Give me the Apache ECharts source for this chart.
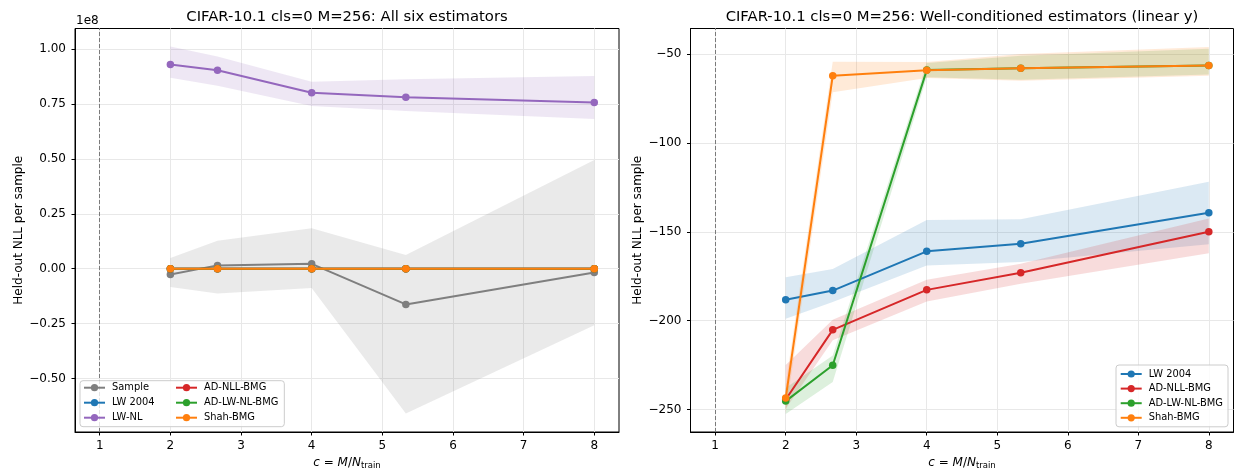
<!DOCTYPE html>
<html>
<head>
<meta charset="utf-8">
<script src="https://cdn.jsdelivr.net/npm/echarts@6/dist/echarts.min.js"></script>
<style>
html,body{margin:0;padding:0;background:#fff;}
#chart{width:1235px;height:470px;}
</style>
</head>
<body>
<div id="chart"></div>
<script>
// ---------- data ----------
const cValues = [2, 2.667, 4, 5.333, 8];           // c = M / N_train
const xTicks = [1, 2, 3, 4, 5, 6, 7, 8];
const xTickLabels = ['1', '2', '3', '4', '5', '6', '7', '8'];

// left panel (units of 1e8)
const leftYTicks = [-0.5, -0.25, 0, 0.25, 0.5, 0.75, 1.0];
const leftYTickLabels = ['\u22120.50', '\u22120.25', '0.00', '0.25', '0.50', '0.75', '1.00'];
const sampleMean = [-0.027, 0.015, 0.022, -0.163, -0.017];
const sampleLo   = [-0.083, -0.113, -0.088, -0.660, -0.258];
const sampleHi   = [0.049, 0.127, 0.184, 0.062, 0.495];
const lwnlMean = [0.930, 0.904, 0.801, 0.781, 0.757];
const lwnlLo   = [0.870, 0.833, 0.741, 0.718, 0.682];
const lwnlHi   = [1.012, 0.966, 0.852, 0.863, 0.878];

// right panel (raw NLL)
const rightYTicks = [-250, -200, -150, -100, -50];
const rightYTickLabels = ['\u2212250', '\u2212200', '\u2212150', '\u2212100', '\u221250'];
const lw2004Mean = [-188.3, -183.1, -161.0, -156.8, -139.3];
const lw2004Lo   = [-199.0, -189.6, -169.0, -167.0, -157.0];
const lw2004Hi   = [-175.6, -170.9, -143.4, -142.9, -121.9];
const adNllMean = [-244.4, -205.2, -182.7, -173.1, -150.0];
const adNllLo   = [-249.6, -211.0, -189.3, -179.3, -162.1];
const adNllHi   = [-225.0, -199.5, -177.0, -168.0, -142.5];
const adLwNlMean = [-245.3, -225.1, -59.0, -58.0, -56.4];
const adLwNlLo   = [-252.5, -234.6, -63.0, -64.5, -61.5];
const adLwNlHi   = [-238.0, -219.6, -55.0, -51.0, -47.0];
const shahMean = [-243.6, -62.2, -59.1, -58.0, -56.4];
const shahLo   = [-252.0, -71.5, -63.5, -65.0, -62.2];
const shahHi   = [-236.0, -54.3, -54.5, -50.0, -46.0];

const colors = {
  'Sample': '#7f7f7f', 'LW 2004': '#1f77b4', 'LW-NL': '#9467bd',
  'AD-NLL-BMG': '#d62728', 'AD-LW-NL-BMG': '#2ca02c', 'Shah-BMG': '#ff7f0e'
};
const SCALE = 1e8;
const scaleArr = a => a.map(v => v / SCALE);

// ---------- helpers ----------
const FONT = 'DejaVu Sans';
function band(name, gi, xs, lo, hi, color) {
  return {
    type: 'custom', name: name + ' band', xAxisIndex: gi, yAxisIndex: gi,
    silent: true, z: 1, clip: true,
    data: xs.map((x, i) => [x, lo[i], hi[i]]),
    encode: { x: 0, y: [1, 2] },
    renderItem: function (params, api) {
      if (params.dataIndex !== 0) return null;
      const pts = [];
      for (let i = 0; i < xs.length; i++) pts.push(api.coord([xs[i], hi[i]]));
      for (let i = xs.length - 1; i >= 0; i--) pts.push(api.coord([xs[i], lo[i]]));
      return { type: 'polygon', shape: { points: pts }, style: { fill: color, opacity: 0.16 } };
    }
  };
}
function line(name, gi, xs, ys, z, extra) {
  const s = {
    type: 'line', name: name, xAxisIndex: gi, yAxisIndex: gi, z: z,
    data: xs.map((x, i) => [x, ys[i]]),
    symbol: 'circle', symbolSize: 7.5, showSymbol: true,
    lineStyle: { width: 2, color: colors[name] },
    itemStyle: { color: colors[name] },
    emphasis: { disabled: true }
  };
  return Object.assign(s, extra || {});
}
const vline = {
  markLine: {
    silent: true, symbol: 'none', label: { show: false },
    lineStyle: { color: '#7a7a7a', width: 1, type: [4, 2] },
    data: [{ xAxis: 1 }]
  }
};
function xAxisDef(gi) {
  return {
    type: 'value', gridIndex: gi, min: 0.65, max: 8.35,
    axisLine: { show: true, onZero: false, lineStyle: { color: '#000', width: 1 } },
    axisTick: { show: true, length: 3.5, lineStyle: { color: '#000' }, customValues: xTicks },
    axisLabel: {
      customValues: xTicks, margin: 8, color: '#000', fontFamily: FONT, fontSize: 12,
      formatter: v => xTickLabels[xTicks.indexOf(v)]
    },
    splitLine: { show: true, lineStyle: { color: '#e8e8e8', width: 1 } },
    name: '{i|c} = {i|M}/{i|N}{s|train}', nameLocation: 'middle', nameGap: 21,
    nameTextStyle: {
      fontFamily: FONT, fontSize: 12, color: '#000',
      rich: {
        i: { fontFamily: FONT, fontStyle: 'italic', fontSize: 12 },
        s: { fontFamily: FONT, fontSize: 8.5, padding: [5, 0, 0, 0] }
      }
    }
  };
}
function yAxisDef(gi, ticks, labels, min, max, nameGap) {
  return {
    type: 'value', gridIndex: gi, min: min, max: max,
    axisLine: { show: true, onZero: false, lineStyle: { color: '#000', width: 1 } },
    axisTick: { show: true, length: 3.5, lineStyle: { color: '#000' }, customValues: ticks },
    axisLabel: {
      customValues: ticks, margin: 9, color: '#000', fontFamily: FONT, fontSize: 12,
      formatter: v => { const k = ticks.indexOf(v); return k >= 0 ? labels[k] : ''; }
    },
    splitLine: { show: true, lineStyle: { color: '#e8e8e8', width: 1 } },
    name: 'Held-out NLL per sample', nameLocation: 'middle', nameGap: nameGap,
    nameTextStyle: { fontFamily: FONT, fontSize: 12, color: '#000' }
  };
}

const leftNames = ['Sample', 'LW 2004', 'LW-NL', 'AD-NLL-BMG', 'AD-LW-NL-BMG', 'Shah-BMG'];
const rightNames = ['LW 2004', 'AD-NLL-BMG', 'AD-LW-NL-BMG', 'Shah-BMG'];

const series = [
  // left bands
  band('Sample', 0, cValues, sampleLo, sampleHi, colors['Sample']),
  band('LW 2004', 0, cValues, scaleArr(lw2004Lo), scaleArr(lw2004Hi), colors['LW 2004']),
  band('LW-NL', 0, cValues, lwnlLo, lwnlHi, colors['LW-NL']),
  band('AD-NLL-BMG', 0, cValues, scaleArr(adNllLo), scaleArr(adNllHi), colors['AD-NLL-BMG']),
  band('AD-LW-NL-BMG', 0, cValues, scaleArr(adLwNlLo), scaleArr(adLwNlHi), colors['AD-LW-NL-BMG']),
  band('Shah-BMG', 0, cValues, scaleArr(shahLo), scaleArr(shahHi), colors['Shah-BMG']),
  // left lines
  line('Sample', 0, cValues, sampleMean, 3, vline),
  line('LW 2004', 0, cValues, scaleArr(lw2004Mean), 4),
  line('LW-NL', 0, cValues, lwnlMean, 5),
  line('AD-NLL-BMG', 0, cValues, scaleArr(adNllMean), 6),
  line('AD-LW-NL-BMG', 0, cValues, scaleArr(adLwNlMean), 7),
  line('Shah-BMG', 0, cValues, scaleArr(shahMean), 8),
  // right bands
  band('LW 2004', 1, cValues, lw2004Lo, lw2004Hi, colors['LW 2004']),
  band('AD-NLL-BMG', 1, cValues, adNllLo, adNllHi, colors['AD-NLL-BMG']),
  band('AD-LW-NL-BMG', 1, cValues, adLwNlLo, adLwNlHi, colors['AD-LW-NL-BMG']),
  band('Shah-BMG', 1, cValues, shahLo, shahHi, colors['Shah-BMG']),
  // right lines
  line('LW 2004', 1, cValues, lw2004Mean, 4, vline),
  line('AD-NLL-BMG', 1, cValues, adNllMean, 5),
  line('AD-LW-NL-BMG', 1, cValues, adLwNlMean, 6),
  line('Shah-BMG', 1, cValues, shahMean, 7)
];

const legendCommon = {
  orient: 'vertical', itemWidth: 21, itemHeight: 9, itemGap: 5,
  backgroundColor: 'rgba(255,255,255,0.8)', borderColor: '#cccccc', borderWidth: 1, borderRadius: 3,
  textStyle: { fontFamily: FONT, fontSize: 9.9, color: '#000', lineHeight: 10, padding: [0, 0, 0, 2] },
  selectedMode: false, z: 20
};

const option = {
  animation: false,
  backgroundColor: '#fff',
  title: [
    { text: 'CIFAR-10.1 cls=0 M=256: All six estimators', left: 342, top: 5, textAlign: 'center',
      textStyle: { fontFamily: FONT, fontSize: 14.8, fontWeight: 'normal', color: '#000' } },
    { text: 'CIFAR-10.1 cls=0 M=256: Well-conditioned estimators (linear y)', left: 957, top: 5, textAlign: 'center',
      textStyle: { fontFamily: FONT, fontSize: 14.8, fontWeight: 'normal', color: '#000' } }
  ],
  grid: [
    { left: 75, top: 28.5, width: 544, height: 403.5, show: true, borderColor: '#000', borderWidth: 1,
      backgroundColor: 'transparent', outerBoundsMode: 'none', containLabel: false },
    { left: 690.5, top: 28.5, width: 543, height: 403.5, show: true, borderColor: '#000', borderWidth: 1,
      backgroundColor: 'transparent', outerBoundsMode: 'none', containLabel: false }
  ],
  xAxis: [xAxisDef(0), xAxisDef(1)],
  yAxis: [
    yAxisDef(0, leftYTicks, leftYTickLabels, -0.744, 1.094, 50),
    yAxisDef(1, rightYTicks, rightYTickLabels, -262.7, -35.6, 47)
  ],
  legend: [
    Object.assign({}, legendCommon, {
      left: 80, top: 380.7, height: 45, padding: [2, 6, 4, 3],
      data: leftNames.map((n, i) => i < 3 ? { name: n, textStyle: { width: 58 } } : { name: n })
    }),
    Object.assign({}, legendCommon, {
      left: 1116, top: 365, itemGap: 4.6, padding: [4, 5, 4, 3.7],
      data: rightNames
    })
  ],
  graphic: [
    { type: 'text', left: 76, top: 15, z: 10,
      style: { text: '1e8', fontFamily: FONT, fontSize: 12, fill: '#000' } }
  ],
  series: series
};

const chart = echarts.init(document.getElementById('chart'), null, { renderer: 'canvas' });
chart.setOption(option);
</script>
</body>
</html>
